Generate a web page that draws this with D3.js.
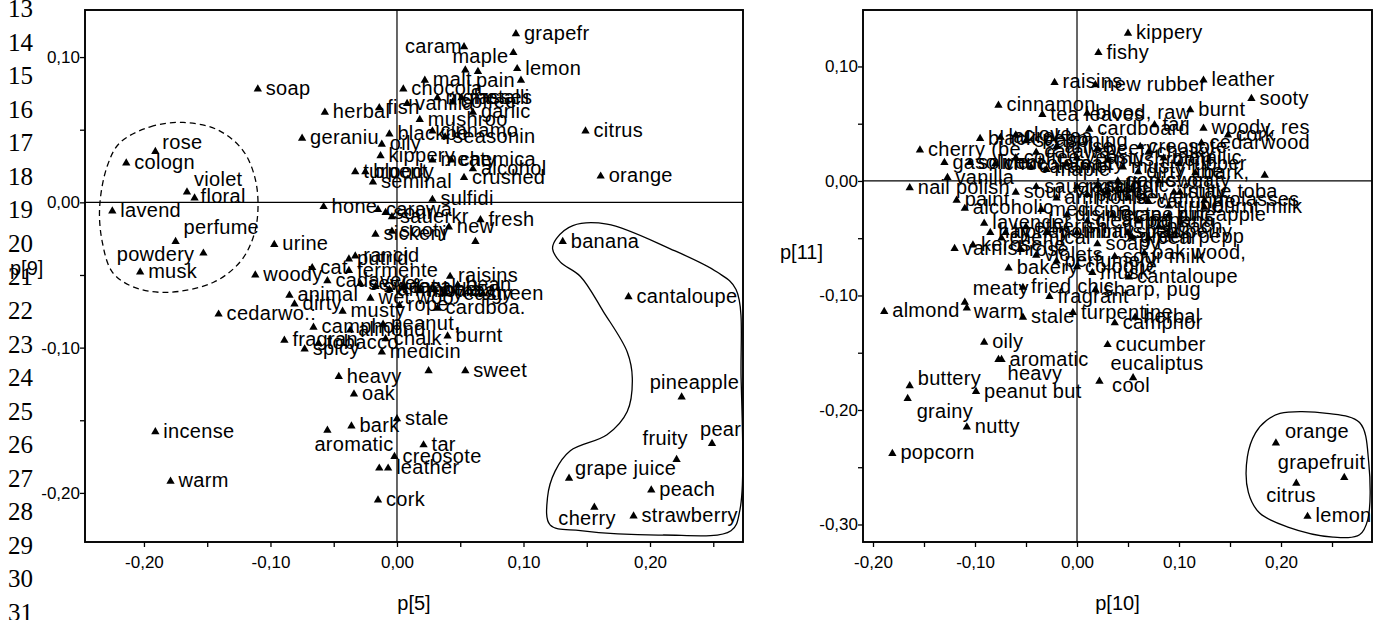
<!DOCTYPE html>
<html><head><meta charset="utf-8">
<script src="https://cdn.jsdelivr.net/npm/d3@7"></script>
<style>
body{margin:0;background:#fff;}
svg{display:block;}
</style></head><body>
<svg id="c" width="1381" height="620"></svg>
<script>
// ---------------- DATA ----------------
const lineNumbers = [13,14,15,16,17,18,19,20,21,22,23,24,25,26,27,28,29,30,31];

const leftLabels = ["soap","herbal","fish","geraniu","rose","cologn","violet","floral","lavend","perfume",
"powdery","musk","hone","urine","woody","cat","animal","dirty","cedarwo.:","fragran",
"camphor","heavy","oak","bark","aromatic","incense","warm","cork","","leather",
"stale","tar","creosote","sweet","","grapefr","caram","maple","lemon","malt",
"pain","","","chocola","vanilla","molasses","coffee","metalli","garlic","mushroo",
"blackpe","oily","seasonin","cinnamo","kippery","meaty","bloody","turpent","chemica","alcohol",
"crushed","seminal","sulfidi","carawa","sour","sauerkr","fresh","new","","sickeni",
"sooty","putrid,","rancid","fermente","cadaver","raisins","bean","green","sewer","sweaty",
"ammonia","fecal","mothbal","beery","yeasty","musty","cardboa.","rope","wet woo","peanut,",
"chalk","almond","burnt","spicy","tobacco","medicin","citrus","orange","banana","cantaloupe",
"pineapple","pear","fruity","grape juice","peach","cherry","strawberry"];
const leftP5 = [-0.110,-0.057,-0.014,-0.075,-0.191,-0.214,-0.166,-0.160,-0.225,-0.175,
-0.153,-0.203,-0.058,-0.097,-0.112,-0.067,-0.085,-0.081,-0.141,-0.089,
-0.066,-0.046,-0.034,-0.036,-0.055,-0.191,-0.179,-0.015,-0.014,-0.007,
0.000,0.021,-0.002,0.054,0.025,0.094,0.053,0.092,0.095,0.022,
0.098,0.054,0.064,0.005,0.008,0.032,0.044,0.051,0.060,0.018,
-0.006,-0.012,0.038,0.028,-0.013,0.028,-0.025,-0.033,0.043,0.060,
0.053,-0.019,0.028,-0.015,-0.009,-0.004,0.066,0.041,0.062,-0.017,
-0.004,-0.038,-0.033,-0.038,-0.055,0.042,0.048,0.068,-0.029,-0.017,
-0.006,0.006,0.018,0.030,0.038,-0.043,0.032,0.002,-0.021,-0.011,
-0.009,-0.037,0.040,-0.073,-0.062,-0.012,0.149,0.161,0.131,0.183,
0.225,0.249,0.221,0.136,0.201,0.156,0.187];
const leftP9 = [0.078,0.062,0.065,0.044,0.035,0.027,0.007,0.003,-0.006,-0.027,
-0.035,-0.048,-0.003,-0.029,-0.050,-0.045,-0.064,-0.070,-0.077,-0.095,
-0.086,-0.120,-0.132,-0.154,-0.157,-0.158,-0.192,-0.205,-0.183,-0.183,
-0.149,-0.167,-0.175,-0.116,-0.116,0.116,0.107,0.103,0.092,0.084,
0.084,0.091,0.090,0.078,0.068,0.072,0.069,0.072,0.062,0.057,
0.047,0.040,0.045,0.049,0.032,0.029,0.021,0.021,0.029,0.023,
0.017,0.014,0.002,-0.005,-0.007,-0.010,-0.012,-0.017,-0.027,-0.022,
-0.020,-0.039,-0.037,-0.047,-0.054,-0.051,-0.057,-0.063,-0.056,-0.058,
-0.060,-0.058,-0.061,-0.060,-0.063,-0.075,-0.073,-0.071,-0.066,-0.084,
-0.094,-0.088,-0.092,-0.101,-0.097,-0.103,0.049,0.018,-0.027,-0.065,
-0.134,-0.166,-0.177,-0.190,-0.198,-0.210,-0.216];

const rightLabels = ["kippery","fishy","raisins","new rubber","leather","sooty","burnt","cinnamon","tea leaves","blood, raw",
"tar","woody, res","cork","cedarwood","creosote","cardboard","bark,","","stale toba","molasses",
"burnt milk","green pepp","oak wood,","sour milk","cantaloupe","sharp, pug","turpentine","herbal","camphor","cucumber",
"eucaliptus","cool","fragrant","stale","fried chic","meaty","warm","almond","oily","aromatic",
"heavy","buttery","grainy","peanut but","nutty","popcorn","bakery","varnish","kerosene","chemical",
"lavender","alcoholic","paint","nail polish","vanilla","gasoline","solvent","cherry (be","orange","grapefruit",
"citrus","lemon","clove","black pepp","laurel lea","seasoning","caraway","anise","coffee","chocolate",
"caramel","maple","malty","yeasty","beery","mushroom","musty","dirty line","sweaty","garlic, on",
"sulfidic","rancid","putrid","fecal","sewer","cat urine","urine","sauerkraut","sour, vine","ammonia",
"medicinal","disinfecta","cleaning f","etherish","mothballs","minty, pep","honey","soapy","rose","violets",
"perfumery","cologne","musk","hay","grape juic","banana","peach","pear","pineapple","strawberry",
"fruity","metallic","chalky","rubber"];
const rightP10 = [0.050,0.021,-0.022,0.018,0.124,0.171,0.111,-0.077,-0.034,0.010,
0.076,0.124,0.148,0.122,0.062,0.012,0.116,0.184,0.101,0.125,
0.125,0.054,0.066,0.037,0.051,0.018,-0.004,0.057,0.037,0.030,
0.022,0.055,-0.027,-0.053,-0.053,-0.110,-0.108,-0.189,-0.091,-0.074,
-0.077,-0.164,-0.166,-0.099,-0.108,-0.181,-0.067,-0.120,-0.102,-0.074,
-0.091,-0.110,-0.118,-0.164,-0.127,-0.130,-0.105,-0.154,0.195,0.262,
0.215,0.226,-0.060,-0.095,-0.075,-0.050,-0.040,-0.020,-0.060,-0.080,
-0.045,-0.030,-0.010,0.000,0.020,0.030,0.045,0.060,0.080,0.040,
0.020,0.000,0.010,0.030,0.050,0.070,0.090,-0.040,-0.060,-0.020,
-0.035,-0.010,0.010,-0.050,-0.030,0.000,-0.070,0.020,-0.055,-0.040,
-0.020,0.000,0.015,-0.085,0.035,0.060,0.080,0.070,0.090,0.050,
0.095,0.085,0.070,0.100];
const rightP11 = [0.129,0.112,0.086,0.084,0.088,0.072,0.062,0.066,0.058,0.059,
0.049,0.046,0.040,0.033,0.030,0.045,0.007,0.005,-0.010,-0.017,
-0.023,-0.049,-0.063,-0.066,-0.084,-0.095,-0.115,-0.119,-0.124,-0.143,
-0.175,-0.172,-0.101,-0.119,-0.093,-0.106,-0.111,-0.114,-0.141,-0.156,
-0.156,-0.179,-0.190,-0.184,-0.215,-0.238,-0.076,-0.059,-0.056,-0.050,
-0.037,-0.024,-0.017,-0.006,0.003,0.016,0.016,0.027,-0.229,-0.259,
-0.264,-0.293,0.040,0.037,0.038,0.035,0.025,0.030,0.020,0.015,
0.012,0.010,0.015,0.020,0.028,0.018,0.012,0.008,0.000,0.000,
-0.004,-0.005,-0.012,-0.010,-0.015,-0.018,-0.022,-0.005,-0.010,-0.015,
-0.025,-0.030,-0.035,-0.040,-0.045,-0.045,-0.045,-0.055,-0.060,-0.065,
-0.070,-0.075,-0.080,-0.045,-0.030,-0.035,-0.040,-0.050,-0.030,-0.045,
-0.010,0.020,0.025,0.015];

// ticks
const leftXTicks = [-0.20,-0.15,-0.10,-0.05,0.00,0.05,0.10,0.15,0.20,0.25];
const leftXTickLabels = ["-0,20","","-0,10","","0,00","","0,10","","0,20",""];
const leftYTicks = [-0.20,-0.15,-0.10,-0.05,0.00,0.05,0.10];
const leftYTickLabels = ["-0,20","","-0,10","","0,00","","0,10"];
const rightXTicks = [-0.20,-0.15,-0.10,-0.05,0.00,0.05,0.10,0.15,0.20,0.25];
const rightXTickLabels = ["-0,20","","-0,10","","0,00","","0,10","","0,20",""];
const rightYTicks = [-0.30,-0.25,-0.20,-0.15,-0.10,-0.05,0.00,0.05,0.10];
const rightYTickLabels = ["-0,30","","-0,20","","-0,10","","0,00","","0,10"];

// group outlines (data units)
const floralGroupX = [-0.219,-0.195,-0.169,-0.142,-0.122,-0.112,-0.110,-0.114,-0.124,-0.145,-0.182,-0.209,-0.225,-0.233,-0.235,-0.229];
const floralGroupY = [0.041,0.052,0.055,0.050,0.036,0.016,-0.007,-0.025,-0.041,-0.055,-0.062,-0.058,-0.048,-0.027,-0.003,0.025];
const fruitGroupX = [0.126,0.139,0.166,0.216,0.253,0.268,0.272,0.271,0.264,0.210,0.145,0.121,0.119,0.125,0.137,0.166,0.182,0.186,0.182,0.163,0.145,0.129,0.123];
const fruitGroupY = [-0.025,-0.016,-0.015,-0.032,-0.048,-0.060,-0.121,-0.212,-0.226,-0.229,-0.226,-0.222,-0.203,-0.185,-0.171,-0.160,-0.144,-0.121,-0.103,-0.075,-0.051,-0.041,-0.032];
const citrusGroupX = [0.199,0.245,0.277,0.286,0.285,0.277,0.251,0.206,0.179,0.168,0.167,0.175,0.186];
const citrusGroupY = [-0.203,-0.203,-0.211,-0.246,-0.296,-0.309,-0.311,-0.302,-0.290,-0.272,-0.241,-0.220,-0.209];

// ---------------- DRAWING ----------------
const svg = d3.select("#c");
const SANS = '"Liberation Sans", Arial, Helvetica, sans-serif';

// line numbers of the source document
svg.append("g").selectAll("text").data(lineNumbers).join("text")
  .attr("x", 33).attr("y", (d,i) => 17 + i*33.55)
  .attr("text-anchor","end")
  .style("font-family",'"Liberation Serif","Times New Roman",serif')
  .style("font-size","25px").text(d => d);

const leftPlace = {
  "rose":[7,-2,"start"], "violet":[7,-6,"start"], "floral":[6,5,"start"], "perfume":[8,-8,"start"],
  "powdery":[-9,8,"end"], "caram":[-2,6,"end"], "maple":[-5,10,"end"], "pain":[-6,7,"end"],
  "aromatic":[-13,21,"start"], "pineapple":[-32,-8,"start"], "pear":[-12,-8,"start"],
  "fruity":[-34,-14,"start"], "grape juice":[6,-3,"start"], "cherry":[-36,18,"start"]
};
const rightPlace = {
  "orange":[9,-5,"start"], "grapefruit":[21,-9,"end"], "citrus":[-30,19,"start"],
  "buttery":[8,-1,"start"], "grainy":[9,19,"start"], "heavy":[9,20,"start"],
  "eucaliptus":[11,-11,"start"], "cool":[-21,14,"start"], "meaty":[8,-7,"start"], "warm":[7,10,"start"]
};

function panel(o) {
  const g = svg.append("g");
  const x = d3.scaleLinear().domain(o.xd).range([o.x0, o.x1]);
  const y = d3.scaleLinear().domain(o.yd).range([o.y1, o.y0]);

  // zero lines
  g.append("line").attr("x1", o.x0).attr("x2", o.x1).attr("y1", y(0)).attr("y2", y(0))
    .attr("stroke","#000").attr("stroke-width",1.2);
  g.append("line").attr("x1", x(0)).attr("x2", x(0)).attr("y1", o.y0).attr("y2", o.y1)
    .attr("stroke","#000").attr("stroke-width",1.2);

  // group outlines
  const lineGen = d3.line().x(d => x(d[0])).y(d => y(d[1])).curve(d3.curveCatmullRomClosed.alpha(0.5));
  o.outlines.forEach(ol => {
    g.append("path").attr("d", lineGen(d3.zip(ol.xs, ol.ys)))
      .attr("fill","none").attr("stroke","#000").attr("stroke-width",1.3)
      .attr("stroke-dasharray", ol.dashed ? "6,4" : null);
  });

  // frame
  g.append("rect").attr("x", o.x0).attr("y", o.y0).attr("width", o.x1-o.x0).attr("height", o.y1-o.y0)
    .attr("fill","none").attr("stroke","#000").attr("stroke-width",1.9);

  // axes
  const xa = d3.axisBottom(x).tickValues(o.xTicks).tickSize(5).tickPadding(9)
    .tickFormat((d,i) => o.xTickLabels[i]);
  const ga = g.append("g").attr("transform", `translate(0,${o.y1})`).call(xa);
  const ya = d3.axisLeft(y).tickValues(o.yTicks).tickSize(5).tickPadding(0)
    .tickFormat((d,i) => o.yTickLabels[i]);
  const gy = g.append("g").attr("transform", `translate(${o.x0},0)`).call(ya);
  [ga, gy].forEach(a => {
    a.select(".domain").remove();
    a.selectAll(".tick line").attr("stroke","#000").attr("stroke-width",1.3);
    a.selectAll(".tick text").style("font-family", SANS).style("font-size","17px").attr("fill","#000");
  });

  // axis titles
  g.append("text").attr("x", (o.x0+o.x1)/2).attr("y", 610).attr("text-anchor","middle")
    .style("font-family", SANS).style("font-size","20px").text(o.xTitle);
  g.append("text").attr("x", o.yTitleX).attr("y", o.yTitleY)
    .style("font-family", SANS).style("font-size","20px").text(o.yTitle);

  // points
  const pts = o.labels.map((l,i) => ({l, vx:o.xs[i], vy:o.ys[i]}));
  g.append("g").selectAll("path").data(pts).join("path")
    .attr("d", d3.symbol(d3.symbolTriangle, 30))
    .attr("transform", d => `translate(${x(d.vx)},${y(d.vy)})`)
    .attr("fill","#000");
  g.append("g").selectAll("text").data(pts).join("text")
    .attr("x", d => x(d.vx) + (o.place[d.l] ? o.place[d.l][0] : 8))
    .attr("y", d => y(d.vy) + (o.place[d.l] ? o.place[d.l][1] : 6))
    .attr("text-anchor", d => o.place[d.l] ? o.place[d.l][2] : "start")
    .style("font-family", SANS).style("font-size","20px").style("letter-spacing","0.3px")
    .attr("fill","#000")
    .text(d => d.l);
}

panel({
  x0:85, x1:743, y0:10, y1:542,
  xd:[-0.2466, 0.2735], yd:[-0.2338, 0.1324],
  xTicks:leftXTicks, xTickLabels:leftXTickLabels, yTicks:leftYTicks, yTickLabels:leftYTickLabels,
  labels:leftLabels, xs:leftP5, ys:leftP9, place:leftPlace,
  xTitle:"p[5]", yTitle:"p[9]", yTitleX:10, yTitleY:275,
  outlines:[{xs:floralGroupX, ys:floralGroupY, dashed:true},{xs:fruitGroupX, ys:fruitGroupY, dashed:false}]
});
panel({
  x0:863, x1:1372, y0:10, y1:542,
  xd:[-0.2098, 0.2892], yd:[-0.3153, 0.1493],
  xTicks:rightXTicks, xTickLabels:rightXTickLabels, yTicks:rightYTicks, yTickLabels:rightYTickLabels,
  labels:rightLabels, xs:rightP10, ys:rightP11, place:rightPlace,
  xTitle:"p[10]", yTitle:"p[11]", yTitleX:780, yTitleY:259,
  outlines:[{xs:citrusGroupX, ys:citrusGroupY, dashed:false}]
});
</script>
</body></html>
